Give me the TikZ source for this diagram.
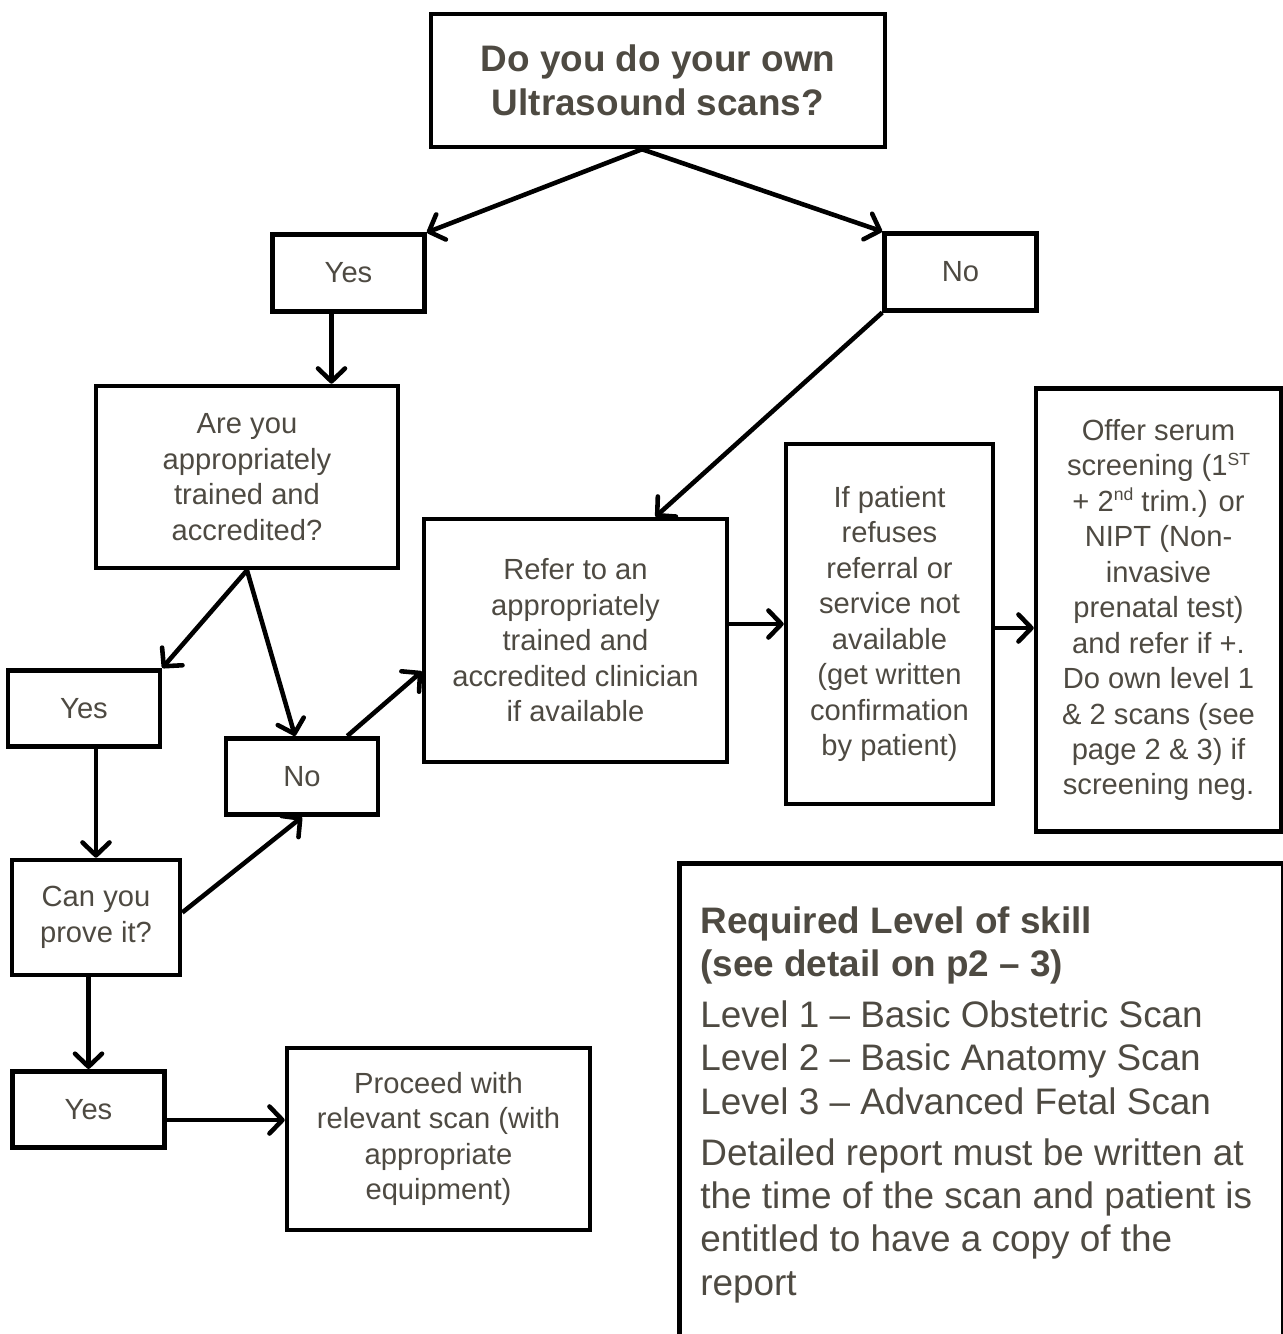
\documentclass[tikz,border=0pt]{standalone}
\usepackage{fontspec}
\setmainfont{Liberation Sans}
\usepackage{tikz}
\usetikzlibrary{calc}
\usetikzlibrary{positioning}
\usetikzlibrary{arrows.meta}
\definecolor{txtgray}{RGB}{78,74,66}
\tikzstyle{arrow}= [line width=2.6pt, -{Straight Barb[round,length=2.6mm,width=5.4mm]}]

\begin{document}
\begin{tikzpicture}[
    x=0.02cm, y=-0.02cm,
    box/.style={
    draw,line width=2.6pt,align=center,inner sep=0pt,text=txtgray,
    font=\fontsize{16.6}{20.2}\selectfont,
    },
    answer/.style={box,minimum width=3.04cm,minimum height=1.53cm}
  ]
  \useasboundingbox (0,0) rectangle (1283,1334);

  \node[box,minimum width=9.08cm,minimum height=2.66cm,font=\fontsize{21}{25}\selectfont\bfseries] (quest) at (658,80.5) {Do you do your own\\Ultrasound scans?};
  \node[answer] (yesA) at (348.5,273) {Yes};
  \node[answer] (noA) at (960.5,272) {No};
  \node[box,minimum width=6.04cm,minimum height=3.64cm] (trained) at (247,477) {Are you\\appropriately\\trained and\\accredited?};
  \node[box,minimum width=6.06cm,minimum height=4.86cm] (refer) at (575.5,640.5) {Refer to an\\appropriately\\trained and\\accredited clinician\\if available};
  \node[box,minimum width=4.14cm,minimum height=7.2cm] (refuse) at (889.5,624) {If patient\\refuses\\referral or\\service not\\available\\(get written\\confirmation\\by patient)};
  \node[box,minimum width=4.9cm,minimum height=8.86cm] (serum) at (1158.5,610) {Offer serum\\screening (1{\fontsize{10}{10}\selectfont\raisebox{6pt}{ST}}\\+ 2{\fontsize{10}{10}\selectfont\raisebox{6pt}{nd}} trim.) or\\NIPT (Non-\\invasive\\prenatal test)\\and refer if +.\\Do own level 1\\\& 2 scans (see\\page 2 \& 3) if\\screening neg.};
  \node[answer] (yesB) at (84,708.5) {Yes};
  \node[answer] (noB) at (302,776.5) {No};
  \node[box,minimum width=3.36cm,minimum height=2.3cm] (prove) at (96,917.5) {Can you\\prove it?};
  \node[answer] (yesC) at (88.5,1109.5) {Yes};
  \node[box,minimum width=6.06cm,minimum height=3.64cm] (proceed) at (438.5,1139) {Proceed with\\relevant scan (with\\appropriate\\equipment)};

  \node[draw,line width=2.6pt,minimum width=12.08cm,minimum height=9.8cm,anchor=north west] (legend) at (677,861) {};
  \node[anchor=north west,align=left,inner sep=0pt,text=txtgray,font=\fontsize{21}{24.7}\selectfont] (legtxt) at (700,906) {\textbf{Required Level of skill}\\\textbf{(see detail on p2 \textendash{} 3)}\\[4.3pt]Level 1 \textendash{} Basic Obstetric Scan\\Level 2 \textendash{} Basic Anatomy Scan\\Level 3 \textendash{} Advanced Fetal Scan\\[4.3pt]Detailed report must be written at\\the time of the scan and patient is\\entitled to have a copy of the\\report};

  \draw[arrow] ([xshift=-0.32cm]quest.south) -- (yesA.north east);
  \draw[arrow] ([xshift=-0.32cm]quest.south) -- (noA.north west);
  \draw[arrow] ([xshift=-0.34cm]yesA.south) -- ([xshift=-0.34cm]yesA.south |- trained.north);
  \draw[arrow] (noA.south west) -- ([xshift=1.6cm]refer.north);
  \draw[arrow] (trained.south) -- (yesB.north east);
  \draw[arrow] (trained.south) -- ([xshift=-0.14cm]noB.north);
  \draw[arrow] ([xshift=-0.66cm]noB.north east) -- ([yshift=-0.62cm]refer.west);
  \draw[arrow] (refer.east |- refuse.west) -- (refuse.west);
  \draw[arrow] ([yshift=-0.08cm]refuse.east) -- ([yshift=-0.08cm]refuse.east -| serum.west);
  \draw[arrow] (yesB.south -| prove.north) -- (prove.north);
  \draw[arrow] ([yshift=0.1cm]prove.east) -- (noB.south);
  \draw[arrow] (prove.south -| yesC.north) -- (yesC.north);
  \draw[arrow] ([yshift=-0.21cm]yesC.east) -- ([yshift=-0.21cm]yesC.east -| proceed.west);
\end{tikzpicture}
\end{document}
